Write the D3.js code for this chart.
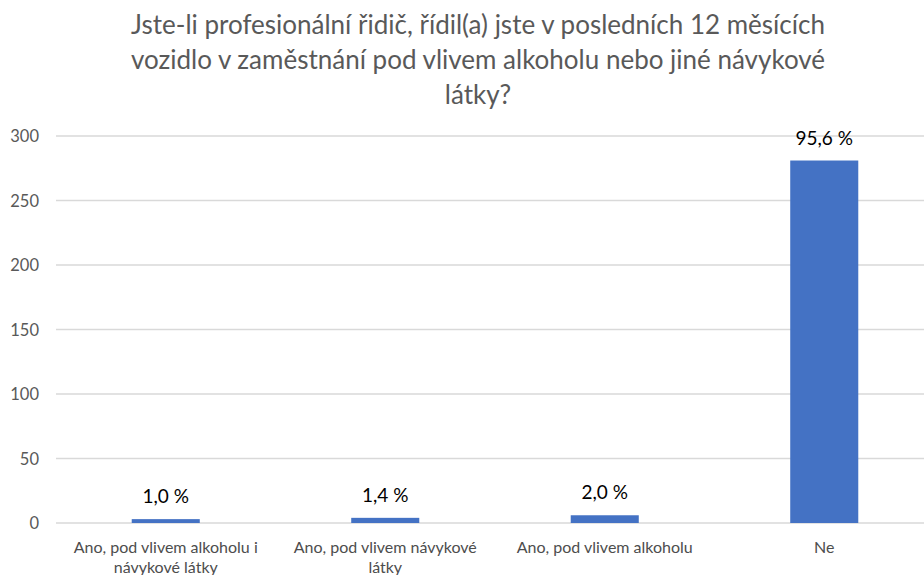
<!DOCTYPE html>
<html><head><meta charset="utf-8">
<script src="https://cdn.jsdelivr.net/npm/d3@7"></script>
<style>body{margin:0;background:#fff}svg{display:block}</style>
</head><body>
<svg id="c" width="924" height="575"></svg>
<script>
const titleLines = ["Jste-li profesionální řidič, řídil(a) jste v posledních 12 měsících", "vozidlo v zaměstnání pod vlivem alkoholu nebo jiné návykové", "látky?"];
const categories = [["Ano, pod vlivem alkoholu i", "návykové látky"], ["Ano, pod vlivem návykové", "látky"], ["Ano, pod vlivem alkoholu"], ["Ne"]];
const values = [3, 4, 6, 281];
const labels = ["1,0 %", "1,4 %", "2,0 %", "95,6 %"];
const yTicks = [0, 50, 100, 150, 200, 250, 300];

const font = "Lato, 'Open Sans', sans-serif";
const svg = d3.select("#c");
const x = d3.scaleBand().domain(d3.range(categories.length)).range([56, 934]).paddingInner(0.69).paddingOuter(0.345);
const y = d3.scaleLinear().domain([0, 300]).range([523, 136]);

svg.append("g").selectAll("text").data(titleLines).join("text")
  .attr("x", 478).attr("y", (d, i) => 34 + i * 35)
  .attr("text-anchor", "middle").attr("font-family", font).attr("font-size", 26)
  .attr("fill", "#595959").text(d => d);

const g = svg.append("g");
g.selectAll("line.grid").data(yTicks).join("line")
  .attr("x1", 56).attr("x2", 924).attr("y1", d => y(d)).attr("y2", d => y(d))
  .attr("stroke", "#d9d9d9").attr("stroke-width", 1.3);
g.selectAll("text.yt").data(yTicks).join("text")
  .attr("x", 39).attr("y", d => y(d) + 6).attr("text-anchor", "end")
  .attr("font-family", font).attr("font-size", 16.5).attr("fill", "#595959").text(d => d);

g.selectAll("rect").data(values).join("rect")
  .attr("x", (d, i) => x(i)).attr("width", x.bandwidth())
  .attr("y", d => y(d)).attr("height", d => y(0) - y(d)).attr("fill", "#4472c4");

g.selectAll("text.vl").data(values).join("text")
  .attr("x", (d, i) => x(i) + x.bandwidth() / 2)
  .attr("y", d => y(d) - 16)
  .attr("text-anchor", "middle").attr("font-family", font).attr("font-size", 19)
  .attr("fill", "#000").text((d, i) => labels[i]);

categories.forEach((lines, i) => {
  svg.append("text").attr("text-anchor", "middle").attr("font-family", font).attr("font-size", 16).attr("fill", "#4d4d4d")
    .selectAll("tspan").data(lines).join("tspan")
    .attr("x", x(i) + x.bandwidth() / 2).attr("y", (d, j) => 553 + j * 20).text(d => d);
});
</script>
</body></html>
